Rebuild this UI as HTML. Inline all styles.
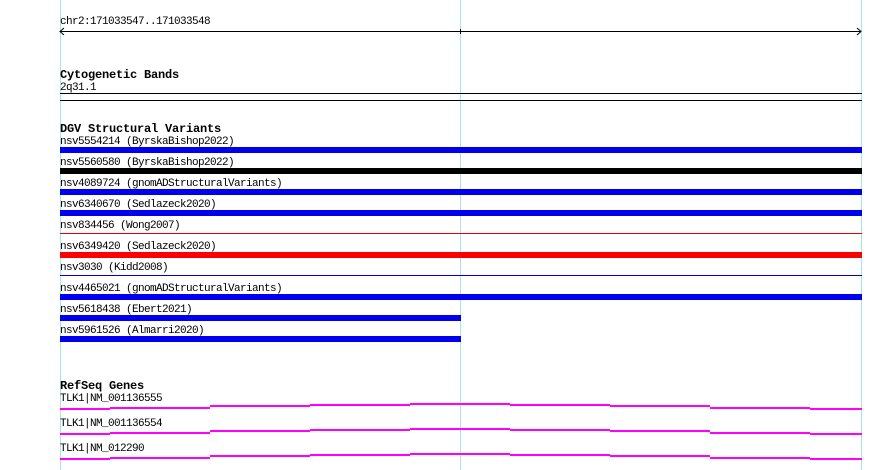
<!DOCTYPE html>
<html><head><style>body{margin:0;background:#fff}svg{display:block}text{font-family:"Liberation Mono",monospace;font-size:11px;letter-spacing:-0.6px;fill:#000}.b{font-weight:bold;font-size:12px;letter-spacing:-0.2px}</style></head><body>
<svg width="890" height="470" xmlns="http://www.w3.org/2000/svg" shape-rendering="crispEdges">
<line x1="60.5" y1="0" x2="60.5" y2="470" stroke="#a8e4ec"/>
<line x1="460.5" y1="0" x2="460.5" y2="470" stroke="#a8e4ec"/>
<line x1="861.5" y1="0" x2="861.5" y2="470" stroke="#a8e4ec"/>
<text x="60" y="24">chr2:171033547..171033548</text>
<line x1="60" y1="31.5" x2="861" y2="31.5" stroke="#000"/>
<path d="M64 28 L60 31.5 L64 35 M857 28 L861 31.5 L857 35" stroke="#000" fill="none" shape-rendering="auto"/>
<line x1="460.5" y1="29" x2="460.5" y2="34" stroke="#000"/>
<text class="b" x="60" y="78">Cytogenetic Bands</text>
<text x="60" y="90">2q31.1</text>
<rect x="60" y="93" width="802" height="1" fill="#000"/>
<rect x="60" y="100" width="802" height="1" fill="#000"/>
<text class="b" x="60" y="132">DGV Structural Variants</text>
<text x="60" y="144">nsv5554214 (ByrskaBishop2022)</text>
<rect x="60" y="147" width="802" height="6" fill="#0000ee"/>
<text x="60" y="165">nsv5560580 (ByrskaBishop2022)</text>
<rect x="60" y="168" width="802" height="6" fill="#000"/>
<text x="60" y="186">nsv4089724 (gnomADStructuralVariants)</text>
<rect x="60" y="189" width="802" height="6" fill="#0000ee"/>
<text x="60" y="207">nsv6340670 (Sedlazeck2020)</text>
<rect x="60" y="210" width="802" height="6" fill="#0000ee"/>
<text x="60" y="228">nsv834456 (Wong2007)</text>
<rect x="60" y="233" width="802" height="1" fill="#ee0000"/>
<text x="60" y="249">nsv6349420 (Sedlazeck2020)</text>
<rect x="60" y="252" width="802" height="6" fill="#ff0000"/>
<text x="60" y="270">nsv3030 (Kidd2008)</text>
<rect x="60" y="275" width="802" height="1" fill="#0000cc"/>
<text x="60" y="291">nsv4465021 (gnomADStructuralVariants)</text>
<rect x="60" y="294" width="802" height="6" fill="#0000ee"/>
<text x="60" y="312">nsv5618438 (Ebert2021)</text>
<rect x="60" y="315" width="401" height="6" fill="#0000ee"/>
<text x="60" y="333">nsv5961526 (Almarri2020)</text>
<rect x="60" y="336" width="401" height="6" fill="#0000ee"/>
<text class="b" x="60" y="389">RefSeq Genes</text>
<text x="60" y="401">TLK1|NM_001136555</text>
<text x="60" y="426">TLK1|NM_001136554</text>
<text x="60" y="451">TLK1|NM_012290</text>
<g fill="#ff00ff">
<rect x="60" y="408" width="50" height="2"/><rect x="110" y="407" width="100" height="2"/><rect x="210" y="405" width="100" height="2"/><rect x="310" y="404" width="100" height="2"/><rect x="410" y="403" width="100" height="2"/><rect x="510" y="404" width="100" height="2"/><rect x="610" y="405" width="100" height="2"/><rect x="710" y="407" width="100" height="2"/><rect x="810" y="408" width="52" height="2"/>
<rect x="60" y="433" width="50" height="2"/><rect x="110" y="432" width="100" height="2"/><rect x="210" y="430" width="100" height="2"/><rect x="310" y="429" width="100" height="2"/><rect x="410" y="428" width="100" height="2"/><rect x="510" y="429" width="100" height="2"/><rect x="610" y="430" width="100" height="2"/><rect x="710" y="432" width="100" height="2"/><rect x="810" y="433" width="52" height="2"/>
<rect x="60" y="458" width="50" height="2"/><rect x="110" y="457" width="100" height="2"/><rect x="210" y="455" width="100" height="2"/><rect x="310" y="454" width="100" height="2"/><rect x="410" y="453" width="100" height="2"/><rect x="510" y="454" width="100" height="2"/><rect x="610" y="455" width="100" height="2"/><rect x="710" y="457" width="100" height="2"/><rect x="810" y="458" width="52" height="2"/>
</g>
</svg>
</body></html>
